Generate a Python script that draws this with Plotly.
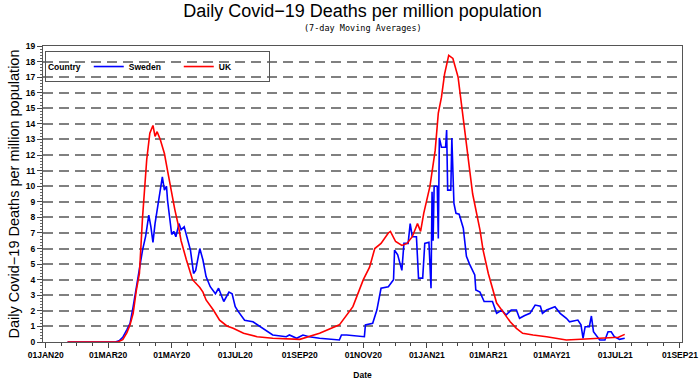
import plotly.graph_objects as go
import pandas as pd

# ---------------- data ----------------
uk_dates = [
    "2020-01-22", "2020-03-10", "2020-03-15", "2020-03-19", "2020-03-22", "2020-03-25",
    "2020-03-28", "2020-03-31", "2020-04-03", "2020-04-07", "2020-04-10", "2020-04-13",
    "2020-04-15", "2020-04-17", "2020-04-20", "2020-04-24", "2020-04-27", "2020-05-01",
    "2020-05-04", "2020-05-07", "2020-05-10", "2020-05-15", "2020-05-18", "2020-05-21",
    "2020-05-28", "2020-05-31", "2020-06-03", "2020-06-10", "2020-06-16", "2020-06-23",
    "2020-06-29", "2020-07-09", "2020-07-22", "2020-08-06", "2020-09-01", "2020-09-20",
    "2020-10-09", "2020-10-22", "2020-11-01", "2020-11-07", "2020-11-12", "2020-11-18",
    "2020-11-25", "2020-11-27", "2020-12-02", "2020-12-08", "2020-12-13", "2020-12-18",
    "2020-12-23", "2020-12-26", "2020-12-29", "2021-01-04", "2021-01-09", "2021-01-12",
    "2021-01-15", "2021-01-18", "2021-01-22", "2021-01-26", "2021-01-31", "2021-02-05",
    "2021-02-10", "2021-02-14", "2021-02-21", "2021-02-24", "2021-03-01", "2021-03-05",
    "2021-03-09", "2021-03-15", "2021-03-22", "2021-03-28", "2021-04-03", "2021-04-13",
    "2021-04-26", "2021-05-15", "2021-05-28", "2021-06-16", "2021-06-29", "2021-07-04",
    "2021-07-10",
]
uk_values = [
    0.0, 0.0, 0.15, 0.6, 1.1, 1.84,
    3.3, 4.4, 8.0, 11.7, 13.4, 13.9,
    13.2, 13.5, 13.0, 12.1, 11.0, 9.5,
    8.5, 7.6, 6.5, 5.3, 4.6, 4.0,
    3.5, 3.2, 2.7, 2.05, 1.4, 1.03,
    0.88, 0.56, 0.34, 0.24, 0.17, 0.56,
    1.1, 2.27, 4.0, 4.8, 6.0, 6.33,
    7.0, 7.1, 6.45, 6.2, 6.33, 6.76,
    7.6, 7.1, 8.26, 10.0, 12.3, 14.7,
    15.7, 17.2, 18.4, 18.2, 17.0, 14.25,
    11.7, 9.5, 7.2, 5.9, 4.4, 3.5,
    2.5, 1.95, 1.3, 0.88, 0.56, 0.45,
    0.34, 0.13, 0.17, 0.24, 0.3, 0.3,
    0.49,
]

sweden_dates = [
    "2020-01-22", "2020-03-08", "2020-03-12", "2020-03-15", "2020-03-19", "2020-03-22",
    "2020-03-25", "2020-03-28", "2020-03-31", "2020-04-03", "2020-04-06", "2020-04-09",
    "2020-04-11", "2020-04-13", "2020-04-15", "2020-04-17", "2020-04-20", "2020-04-22",
    "2020-04-24", "2020-04-26", "2020-04-27", "2020-04-29", "2020-05-01", "2020-05-03",
    "2020-05-05", "2020-05-08", "2020-05-10", "2020-05-13", "2020-05-16", "2020-05-19",
    "2020-05-22", "2020-05-24", "2020-05-28", "2020-05-31", "2020-06-03", "2020-06-07",
    "2020-06-12", "2020-06-15", "2020-06-20", "2020-06-25", "2020-06-28", "2020-07-01",
    "2020-07-04", "2020-07-10", "2020-07-18", "2020-07-28", "2020-08-06", "2020-08-19",
    "2020-08-22", "2020-08-29", "2020-09-01", "2020-09-04", "2020-09-10", "2020-09-20",
    "2020-10-09", "2020-10-11", "2020-10-16", "2020-11-02", "2020-11-03", "2020-11-10",
    "2020-11-14", "2020-11-18", "2020-11-25", "2020-11-30", "2020-12-01", "2020-12-04",
    "2020-12-08", "2020-12-10", "2020-12-14", "2020-12-16", "2020-12-18", "2020-12-22",
    "2020-12-24", "2020-12-28", "2020-12-30", "2021-01-03", "2021-01-05", "2021-01-06",
    "2021-01-07", "2021-01-08", "2021-01-11", "2021-01-12", "2021-01-13", "2021-01-15",
    "2021-01-19", "2021-01-20", "2021-01-21", "2021-01-24", "2021-01-25", "2021-01-27",
    "2021-01-29", "2021-02-01", "2021-02-05", "2021-02-08", "2021-02-11", "2021-02-16",
    "2021-02-17", "2021-02-21", "2021-02-25", "2021-03-02", "2021-03-05", "2021-03-09",
    "2021-03-14", "2021-03-18", "2021-03-23", "2021-03-28", "2021-03-31", "2021-04-05",
    "2021-04-10", "2021-04-15", "2021-04-20", "2021-04-22", "2021-04-26", "2021-05-04",
    "2021-05-09", "2021-05-15", "2021-05-18", "2021-05-26", "2021-05-29", "2021-05-31",
    "2021-06-02", "2021-06-06", "2021-06-08", "2021-06-10", "2021-06-16", "2021-06-21",
    "2021-06-24", "2021-06-27", "2021-06-30", "2021-07-05", "2021-07-10",
]
sweden_values = [
    0.0, 0.0, 0.1, 0.3, 0.8, 1.2,
    2.27, 3.55, 4.6, 5.9, 6.8, 8.15,
    7.4, 6.4, 7.6, 8.5, 10.0, 10.6,
    9.75, 10.0, 9.1, 8.0, 6.9, 7.1,
    6.76, 7.6, 7.2, 7.4, 6.55, 5.9,
    4.4, 4.6, 6.0, 5.26, 4.2, 3.55,
    3.1, 3.45, 2.6, 3.2, 3.1, 2.27,
    1.95, 1.4, 1.3, 0.88, 0.45, 0.34,
    0.45, 0.24, 0.34, 0.45, 0.34, 0.24,
    0.13, 0.45, 0.45, 0.34, 1.1, 1.2,
    2.05, 3.45, 3.55, 4.0, 5.9, 5.6,
    4.6, 6.33, 6.33, 7.6, 6.76, 6.76,
    4.1, 4.1, 6.33, 6.4, 3.45, 9.65,
    6.5, 10.0, 10.0, 6.65, 13.1, 12.5,
    12.5, 13.6, 9.75, 9.75, 13.1, 8.9,
    8.26, 8.2, 7.3, 5.5, 5.0, 4.3,
    3.34, 3.2, 2.6, 2.6, 2.6, 1.84,
    2.05, 1.73, 2.05, 2.05, 1.52, 1.7,
    1.84, 2.37, 2.3, 1.84, 2.05, 2.27,
    1.84, 1.52, 1.3, 1.41, 1.1, 0.24,
    0.98, 0.98, 1.67, 0.66, 0.13, 0.13,
    0.66, 0.66, 0.34, 0.17, 0.24,
]

x_tick_dates = ["2020-01-01", "2020-03-01", "2020-05-01", "2020-07-01", "2020-09-01",
                "2020-11-01", "2021-01-01", "2021-03-01", "2021-05-01", "2021-07-01",
                "2021-09-01"]
y_tick_values = list(range(0, 20))

# ---------------- figure ----------------
major = pd.to_datetime(x_tick_dates)
x_tick_text = [d.strftime("%d%b%y").upper() for d in major]
minor_vals = []
for a, b in zip(major[:-1], major[1:]):
    for k in (1, 2, 3):
        minor_vals.append((a + (b - a) * k / 4).strftime("%Y-%m-%d %H:%M"))

fig = go.Figure()
fig.add_trace(go.Scatter(x=sweden_dates, y=sweden_values, mode="lines", name="Sweden",
                         line=dict(color="#0000FF", width=1.6)))
fig.add_trace(go.Scatter(x=uk_dates, y=uk_values, mode="lines", name="UK",
                         line=dict(color="#FF0000", width=1.6)))

tick_font = dict(family="Liberation Sans, Arial, sans-serif", size=8.5, color="#000", weight="bold")

fig.update_layout(
    width=700, height=383,
    margin=dict(l=43, r=18, t=46, b=41, autoexpand=False),
    paper_bgcolor="white", plot_bgcolor="white",
    showlegend=True,
    title=dict(text="Daily Covid\u221219 Deaths per million population",
               x=0.5, xanchor="center", xref="paper", yref="container",
               y=1, yanchor="top", pad=dict(t=4),
               font=dict(family="Liberation Sans, Arial", size=18, color="#000")),
    legend=dict(
        title=dict(text="<br><span style='font-size:8.5px'>Country</span>", side="left",
                   font=dict(family="Liberation Sans, Arial", size=7, color="#000", weight="bold")),
        orientation="h", x=0.003, y=0.983, xanchor="left", yanchor="top",
        bgcolor="rgba(0,0,0,0)", bordercolor="#555", borderwidth=1,
        font=dict(family="Liberation Sans, Arial", size=8.5, color="#000", weight="bold"),
        itemwidth=30, entrywidth=45, entrywidthmode="pixels",
        tracegroupgap=0, valign="middle",
    ),
    xaxis=dict(
        type="date", automargin=False,
        range=["2019-12-29 10:00", "2021-09-03"],
        tickmode="array", tickvals=list(major), ticktext=x_tick_text,
        ticks="outside", ticklen=5, tickcolor="#444", tickwidth=1,
        tickfont=tick_font,
        showgrid=False, zeroline=False,
        showline=True, linecolor="#555", linewidth=1, mirror=True,
        minor=dict(tickmode="array", tickvals=minor_vals, ticks="outside",
                   ticklen=3, tickcolor="#444", showgrid=False),
        title=dict(text="Date", standoff=12,
                   font=dict(family="Liberation Sans, Arial", size=8.5, color="#000", weight="bold")),
    ),
    yaxis=dict(
        range=[0, 19], automargin=False,
        tickmode="array", tickvals=y_tick_values,
        ticktext=[str(v) for v in y_tick_values],
        ticks="outside", ticklen=5, tickcolor="#444", tickwidth=1,
        tickfont=tick_font,
        showgrid=True, gridcolor="#808080", gridwidth=2, griddash="10px,6px",
        zeroline=False,
        showline=True, linecolor="#555", linewidth=1, mirror=True,
        minor=dict(dtick=0.2, ticks="outside", ticklen=2, tickcolor="#666", showgrid=False),
        title=dict(text="Daily Covid\u221219 Deaths per million population", standoff=2,
                   font=dict(family="Liberation Sans, Arial", size=14.5, color="#000")),
    ),
    annotations=[dict(text="(7-day Moving Averages)", xref="paper", yref="paper",
                      x=0.5, y=1.0, yshift=11, xanchor="center", yanchor="bottom",
                      showarrow=False,
                      font=dict(family="DejaVu Sans Mono, monospace", size=8.5, color="#000"))],
)

fig.write_html("out.html", config={"displayModeBar": False},
               post_script="document.body.style.margin='0px';")
